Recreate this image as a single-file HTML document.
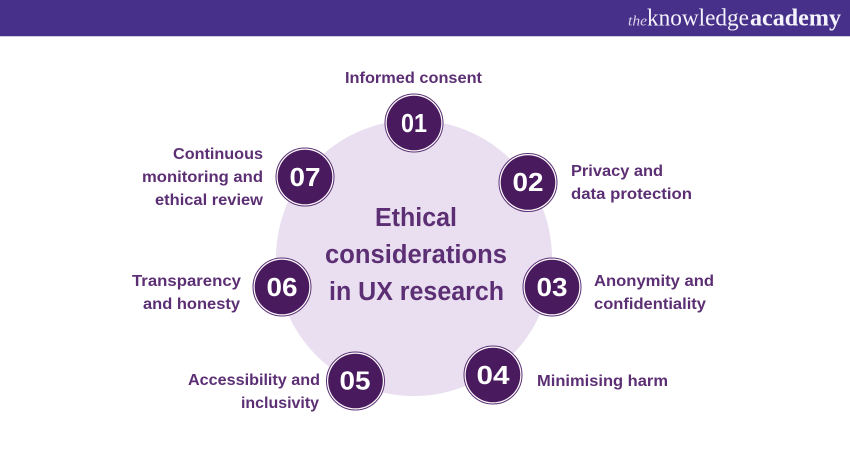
<!DOCTYPE html>
<html><head><meta charset="utf-8"><style>
html,body{margin:0;padding:0;background:#fff}
svg{display:block}
text{font-family:"Liberation Sans",sans-serif}
.l{font-size:16px;font-weight:700;fill:#5c2f74}
.n{font-size:26px;font-weight:700;fill:#fff;text-anchor:middle}
.t{font-size:25.5px;font-weight:700;fill:#5c2f74}
.r{fill:#fff;stroke:#5c2f74;stroke-width:1}
</style></head><body>
<svg width="850" height="450" viewBox="0 0 850 450" xmlns="http://www.w3.org/2000/svg">
<rect width="850" height="450" fill="#fff"/>
<rect width="850" height="36" fill="#46308a"/>
<rect y="36" width="850" height="1" fill="#cfc9e0"/>
<text x="628" y="25.5" font-size="15" font-style="italic" fill="#d9d3ea" style="font-family:'Liberation Serif',serif" textLength="19" lengthAdjust="spacingAndGlyphs">the</text>
<text x="647" y="25.5" font-size="24" fill="#f4f2fa" style="font-family:'Liberation Serif',serif" textLength="102" lengthAdjust="spacingAndGlyphs">knowledge</text>
<text x="750" y="25.5" font-size="24" font-weight="700" fill="#f4f2fa" style="font-family:'Liberation Serif',serif" textLength="91" lengthAdjust="spacingAndGlyphs">academy</text>
<circle cx="414" cy="258" r="138" fill="#eadff0"/>
<g fill="#4a1a5e">
<circle class="r" cx="414" cy="123" r="29"/><circle cx="414" cy="123" r="27.3"/>
<circle class="r" cx="528" cy="182.5" r="29"/><circle cx="528" cy="182.5" r="27.3"/>
<circle class="r" cx="552" cy="287" r="29"/><circle cx="552" cy="287" r="27.3"/>
<circle class="r" cx="493" cy="375" r="29"/><circle cx="493" cy="375" r="27.3"/>
<circle class="r" cx="355.5" cy="381" r="29"/><circle cx="355.5" cy="381" r="27.3"/>
<circle class="r" cx="282" cy="287" r="29"/><circle cx="282" cy="287" r="27.3"/>
<circle class="r" cx="305" cy="177" r="29"/><circle cx="305" cy="177" r="27.3"/>
</g>
<text class="n" x="414" y="132" textLength="26" lengthAdjust="spacingAndGlyphs">01</text>
<text class="n" x="528" y="191" textLength="31" lengthAdjust="spacingAndGlyphs">02</text>
<text class="n" x="552" y="296" textLength="31" lengthAdjust="spacingAndGlyphs">03</text>
<text class="n" x="493" y="384" textLength="33" lengthAdjust="spacingAndGlyphs">04</text>
<text class="n" x="355" y="389.5" textLength="31" lengthAdjust="spacingAndGlyphs">05</text>
<text class="n" x="282" y="296" textLength="31" lengthAdjust="spacingAndGlyphs">06</text>
<text class="n" x="305" y="186" textLength="31" lengthAdjust="spacingAndGlyphs">07</text>
<text class="t" x="375" y="226" textLength="82" lengthAdjust="spacingAndGlyphs">Ethical</text>
<text class="t" x="325" y="263" textLength="182" lengthAdjust="spacingAndGlyphs">considerations</text>
<text class="t" x="329" y="300" textLength="175" lengthAdjust="spacingAndGlyphs">in UX research</text>
<text class="l" x="345" y="83" textLength="137" lengthAdjust="spacingAndGlyphs">Informed consent</text>
<text class="l" x="571" y="176" textLength="92" lengthAdjust="spacingAndGlyphs">Privacy and</text>
<text class="l" x="571" y="199" textLength="121" lengthAdjust="spacingAndGlyphs">data protection</text>
<text class="l" x="594" y="286" textLength="120" lengthAdjust="spacingAndGlyphs">Anonymity and</text>
<text class="l" x="594" y="309" textLength="112" lengthAdjust="spacingAndGlyphs">confidentiality</text>
<text class="l" x="537" y="386" textLength="131" lengthAdjust="spacingAndGlyphs">Minimising harm</text>
<text class="l" x="188" y="385" textLength="132" lengthAdjust="spacingAndGlyphs">Accessibility and</text>
<text class="l" x="241" y="408" textLength="78" lengthAdjust="spacingAndGlyphs">inclusivity</text>
<text class="l" x="132" y="286" textLength="109" lengthAdjust="spacingAndGlyphs">Transparency</text>
<text class="l" x="143" y="309" textLength="97" lengthAdjust="spacingAndGlyphs">and honesty</text>
<text class="l" x="173" y="159" textLength="90" lengthAdjust="spacingAndGlyphs">Continuous</text>
<text class="l" x="142" y="182" textLength="121" lengthAdjust="spacingAndGlyphs">monitoring and</text>
<text class="l" x="155" y="205" textLength="108" lengthAdjust="spacingAndGlyphs">ethical review</text>
</svg>
</body></html>
